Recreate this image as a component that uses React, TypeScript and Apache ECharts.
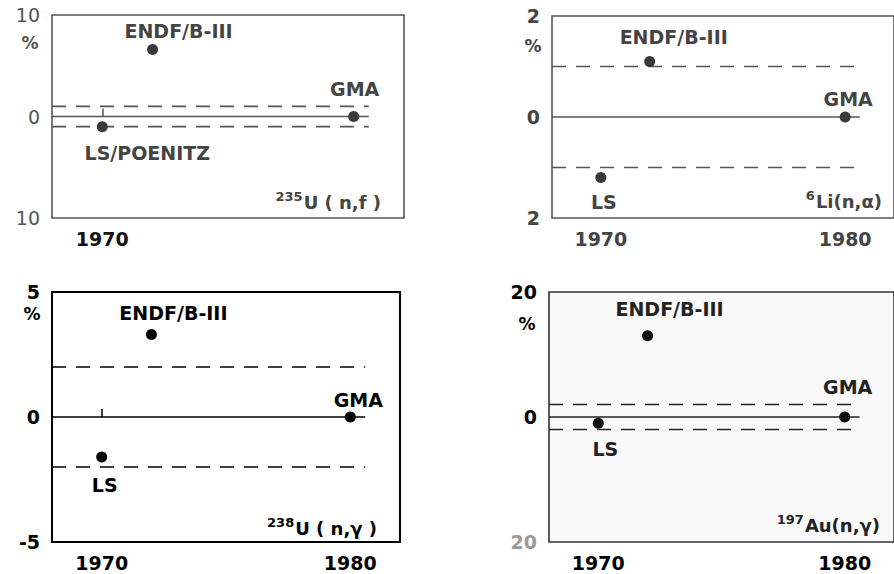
import React, { useEffect, useRef } from "react";
import * as echarts from "echarts";

// evaluation years (LS, ENDF/B-III, GMA)
const years = [1970, 1972, 1980];
const namesPanel1 = ["LS/POENITZ", "ENDF/B-III", "GMA"];
const namesOther = ["LS", "ENDF/B-III", "GMA"];

// deviations in %
const u235Values = [-1, 6.6, 0];
const li6Values = [-1.2, 1.1, 0];
const u238Values = [-1.6, 3.3, 0];
const au197Values = [-1, 13, 0];

// uncertainty bands (± %)
const bands = [1, 1, 2, 2];
// y axis half-ranges
const yLimits = [10, 2, 5, 20];
// x axis range and reference line span
const xRange = [1968, 1982];
const lineSpan = [1968, 1980.6];
// tick labels
const xLabelsPanel1 = [1970];
const xLabelsOther = [1970, 1980];
const xTicks = [1970];

const FONT = "DejaVu Sans";

type Panel = {
  grid: any;
  values: number[];
  names: string[];
  offsets: number[][];
  color: string;
  dotColor: string;
  textColor: string;
  xLabels: number[];
  showTick: boolean;
  absLabels: boolean;
  yLabelColor: string;
  yLabelWeight: string;
  xLabelColor: string;
  borderColor: string;
  borderWidth: number;
  bg?: string;
};

const panels: Panel[] = [
  {
    grid: { left: 52, top: 15, width: 352, height: 203 },
    values: u235Values,
    names: namesPanel1,
    offsets: [[45, 26], [26, -19], [1, -28]],
    color: "#555",
    dotColor: "#3a3a3a",
    textColor: "#444",
    xLabels: xLabelsPanel1,
    showTick: true,
    absLabels: true,
    yLabelColor: "#555",
    yLabelWeight: "normal",
    xLabelColor: "#111",
    borderColor: "#555",
    borderWidth: 1.6,
  },
  {
    grid: { left: 552, top: 16, width: 350, height: 202 },
    values: li6Values,
    names: namesOther,
    offsets: [[3, 24], [24, -24], [3, -18]],
    color: "#555",
    dotColor: "#3a3a3a",
    textColor: "#444",
    xLabels: xLabelsOther,
    showTick: false,
    absLabels: true,
    yLabelColor: "#444",
    yLabelWeight: "bold",
    xLabelColor: "#444",
    borderColor: "#555",
    borderWidth: 1.6,
  },
  {
    grid: { left: 52, top: 292, width: 348, height: 250 },
    values: u238Values,
    names: namesOther,
    offsets: [[3, 28], [22, -22], [8, -17]],
    color: "#000",
    dotColor: "#000",
    textColor: "#000",
    xLabels: xLabelsOther,
    showTick: true,
    absLabels: false,
    yLabelColor: "#000",
    yLabelWeight: "bold",
    xLabelColor: "#000",
    borderColor: "#000",
    borderWidth: 2,
  },
  {
    grid: { left: 549, top: 292, width: 350, height: 250 },
    values: au197Values,
    names: namesOther,
    offsets: [[7, 26], [22, -27], [3, -30]],
    color: "#222",
    dotColor: "#111",
    textColor: "#222",
    xLabels: xLabelsOther,
    showTick: false,
    absLabels: true,
    yLabelColor: "#000",
    yLabelWeight: "bold",
    xLabelColor: "#000",
    borderColor: "#333",
    borderWidth: 1.6,
    bg: "#f9f9fa",
  },
];

const reactions = [
  { sup: "235", main: "U ( n,f )", x: 381, y: 202, color: "#444" },
  { sup: "6", main: "Li(n,α)", x: 882, y: 201, color: "#444" },
  { sup: "238", main: "U ( n,γ )", x: 377, y: 528, color: "#000" },
  { sup: "197", main: "Au(n,γ)", x: 880, y: 525, color: "#222" },
];

const percentMarks = [
  { x: 30, y: 43, color: "#555" },
  { x: 533, y: 46, color: "#444" },
  { x: 32, y: 314, color: "#000" },
  { x: 527, y: 324, color: "#000" },
];

export default function App() {
  const ref = useRef<HTMLDivElement>(null);
  useEffect(() => {
    if (!ref.current) return;
    const chart = echarts.init(ref.current, undefined, { renderer: "svg" });

    const grids: any[] = [];
    const xAxes: any[] = [];
    const yAxes: any[] = [];
    const series: any[] = [];

    panels.forEach((p, i) => {
      grids.push({
        ...p.grid,
        show: true,
        borderColor: p.borderColor,
        borderWidth: p.borderWidth,
        backgroundColor: p.bg || "transparent",
      });
      xAxes.push({
        type: "value",
        gridIndex: i,
        min: xRange[0],
        max: xRange[1],
        axisLine: { show: false },
        splitLine: { show: false },
        axisTick: {
          show: p.showTick,
          inside: true,
          length: 8,
          customValues: xTicks,
          lineStyle: { color: p.color, width: 1.5 },
        },
        axisLabel: {
          customValues: p.xLabels,
          formatter: (v: number) => String(v),
          margin: 11,
          fontSize: 19,
          fontWeight: "bold",
          fontFamily: FONT,
          color: p.xLabelColor,
        },
      });
      const L = yLimits[i];
      yAxes.push({
        type: "value",
        gridIndex: i,
        min: -L,
        max: L,
        interval: L,
        axisLine: { show: false },
        axisTick: { show: false },
        splitLine: { show: false },
        axisLabel: {
          margin: 12,
          fontSize: 19,
          fontWeight: p.yLabelWeight,
          fontFamily: FONT,
          color: (v: number) =>
            i === 3 && v < 0 ? "#999" : p.yLabelColor,
          formatter: (v: number) =>
            p.absLabels ? String(Math.abs(v)) : String(v),
        },
      });
      // reference lines
      const b = bands[i];
      [
        { v: 0, type: "solid" },
        { v: b, type: [14, 10] },
        { v: -b, type: [14, 10] },
      ].forEach((ln) => {
        series.push({
          type: "line",
          xAxisIndex: i,
          yAxisIndex: i,
          symbol: "none",
          silent: true,
          data: [
            [lineSpan[0], ln.v],
            [lineSpan[1], ln.v],
          ],
          lineStyle: {
            color: p.color,
            width: ln.v === 0 ? 1.3 : 1.6,
            type: ln.type,
          },
        });
      });
      // evaluation points
      series.push({
        type: "scatter",
        xAxisIndex: i,
        yAxisIndex: i,
        symbolSize: 11,
        itemStyle: { color: p.dotColor, opacity: 1 },
        z: 5,
        data: years.map((yr, k) => ({
          value: [yr, p.values[k]],
          label: {
            show: true,
            position: "inside",
            offset: p.offsets[k],
            formatter: p.names[k],
            fontSize: 19,
            fontWeight: "bold",
            fontFamily: FONT,
            color: p.textColor,
            align: "center",
            verticalAlign: "middle",
          },
        })),
      });
    });

    const graphics: any[] = [];
    reactions.forEach((r) => {
      graphics.push({
        type: "text",
        x: r.x,
        y: r.y,
        style: {
          text: `{sup|${r.sup}}{main|${r.main}}`,
          align: "right",
          verticalAlign: "middle",
          fill: r.color,
          rich: {
            sup: {
              fontSize: 13,
              fontWeight: "bold",
              fontFamily: FONT,
              fill: r.color,
              padding: [0, 1, 12, 0],
            },
            main: {
              fontSize: 18,
              fontWeight: "bold",
              fontFamily: FONT,
              fill: r.color,
            },
          },
        },
      });
    });
    percentMarks.forEach((m) => {
      graphics.push({
        type: "text",
        x: m.x,
        y: m.y,
        style: {
          text: "%",
          align: "center",
          verticalAlign: "middle",
          fontSize: 17,
          fontWeight: "bold",
          fontFamily: FONT,
          fill: m.color,
        },
      });
    });

    chart.setOption({
      animation: false,
      backgroundColor: "#fff",
      grid: grids,
      xAxis: xAxes,
      yAxis: yAxes,
      series,
      graphic: graphics,
    });
    return () => chart.dispose();
  }, []);
  return (
    <div
      ref={ref}
      style={{ position: "fixed", left: 0, top: 0, width: 894, height: 574 }}
    />
  );
}
